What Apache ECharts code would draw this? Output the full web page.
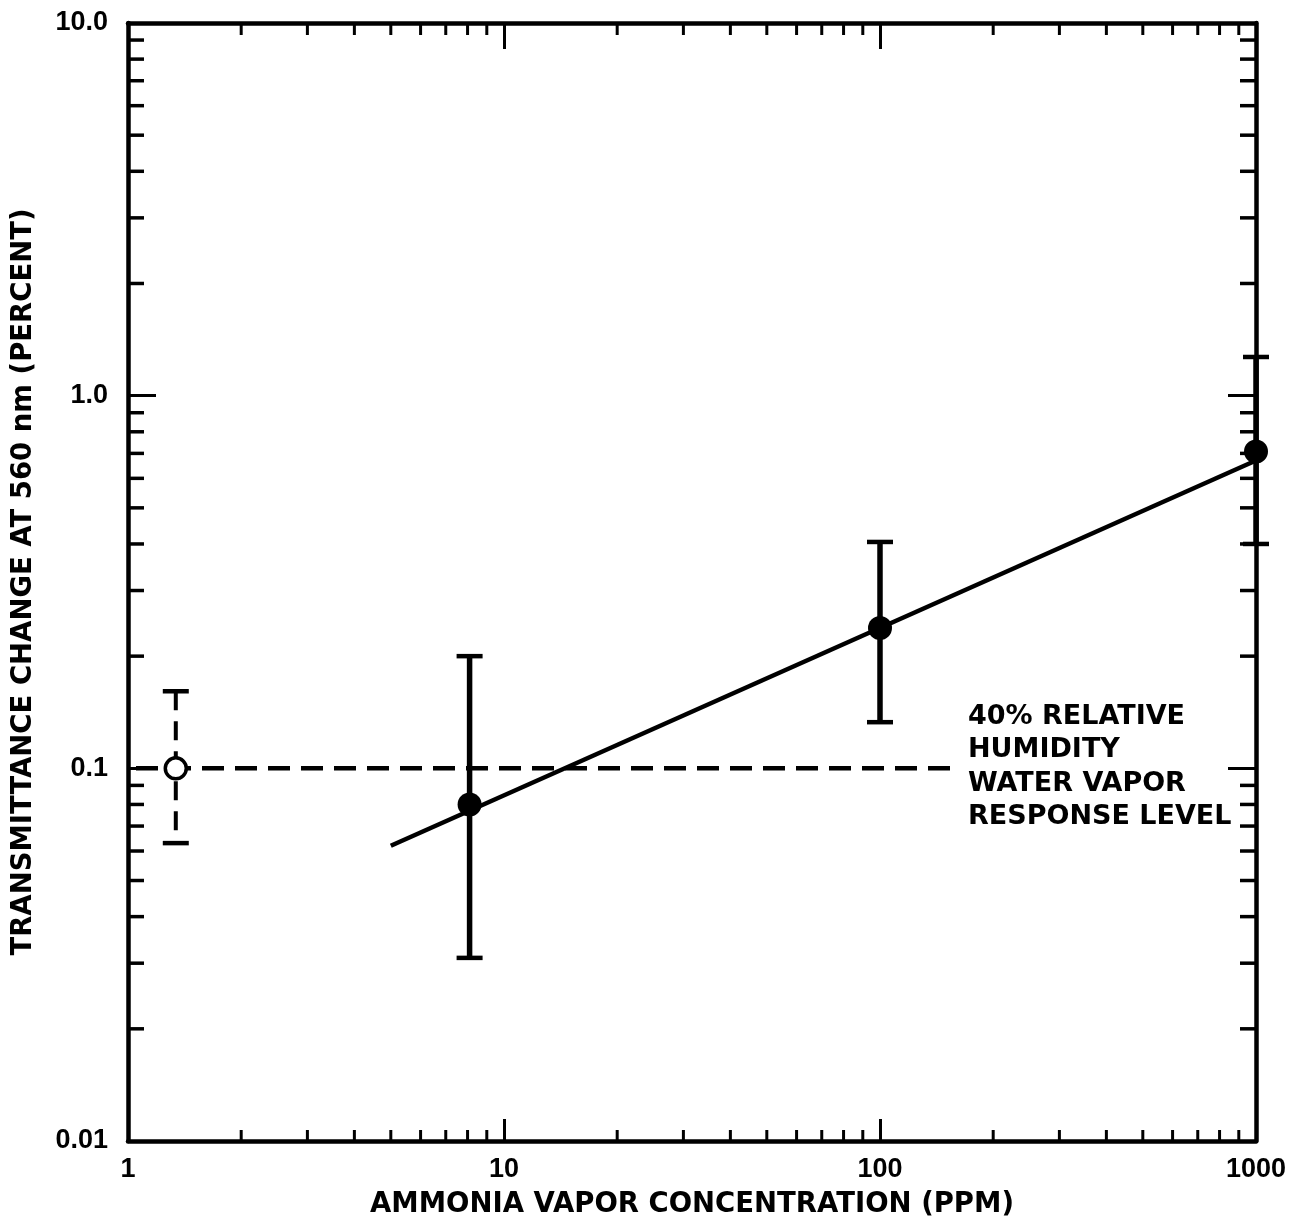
<!DOCTYPE html>
<html><head><meta charset="utf-8">
<script src="https://cdn.jsdelivr.net/npm/echarts@6/dist/echarts.min.js"></script>
<style>html,body{margin:0;padding:0;background:#fff}#c{width:1305px;height:1230px}</style>
</head><body><div id="c"></div>
<script>
// ---- data ----
const xTickValues = [1, 10, 100, 1000];
const xTickLabels = ['1', '10', '100', '1000'];
const yTickValues = [0.01, 0.1, 1, 10];
const yTickLabels = ['0.01', '0.1', '1.0', '10.0'];
const xMinorTicks = [2,3,4,5,6,7,8,9,20,30,40,50,60,70,80,90,200,300,400,500,600,700,800,900];
const yMinorTicks = [0.02,0.03,0.04,0.05,0.06,0.07,0.08,0.09,0.2,0.3,0.4,0.5,0.6,0.7,0.8,0.9,2,3,4,5,6,7,8,9];
const measuredPoints = [[8.1, 0.080], [100, 0.238], [1000, 0.708]];
const measuredErrors = [[8.1, 0.031, 0.20], [100, 0.133, 0.405], [1000, 0.40, 1.27]];
const waterPoint = [[1.34, 0.1]];
const waterError = [[1.34, 0.063, 0.161]];
const waterLevel = [[1, 0.1], [158, 0.1]];
const fitLine = [[5, 0.062], [1000, 0.67]];
const annotationLines = ['40% RELATIVE', 'HUMIDITY', 'WATER VAPOR', 'RESPONSE LEVEL'];
const xName = 'AMMONIA VAPOR CONCENTRATION (PPM)';
const yName = 'TRANSMITTANCE CHANGE AT 560 nm (PERCENT)';

// ---- chart ----
const chart = echarts.init(document.getElementById('c'), null, {renderer: 'canvas'});
const labelFont = {color: '#000', fontFamily: '"Liberation Sans", Arial, sans-serif', fontWeight: 'bold', fontSize: 27};
const titleFont = {color: '#000', fontFamily: '"DejaVu Sans", sans-serif', fontWeight: 'bold', fontSize: 27.5};
const axLine = {show: true, onZero: false, lineStyle: {color: '#000', width: 4.5}};

function lookup(vals, labels, v) {
  const e = Math.round(Math.log10(v));
  for (let i = 0; i < vals.length; i++) if (Math.round(Math.log10(vals[i])) === e) return labels[i];
  return '';
}

function errRender(dashed) {
  return function (params, api) {
    const x = api.value(0), lo = api.value(1), hi = api.value(2);
    const pLo = api.coord([x, lo]), pHi = api.coord([x, hi]);
    const hw = 13;
    return {type: 'group', children: [
      {type: 'line', shape: {x1: pHi[0], y1: pHi[1], x2: pLo[0], y2: pLo[1]},
       style: {stroke: '#000', lineWidth: dashed ? 4 : 5.5, lineDash: dashed ? [19, 11] : null}},
      {type: 'line', shape: {x1: pHi[0] - hw, y1: pHi[1], x2: pHi[0] + hw, y2: pHi[1]}, style: {stroke: '#000', lineWidth: 4.5}},
      {type: 'line', shape: {x1: pLo[0] - hw, y1: pLo[1], x2: pLo[0] + hw, y2: pLo[1]}, style: {stroke: '#000', lineWidth: 4.5}}
    ]};
  };
}

const option = {
  backgroundColor: '#fff',
  animation: false,
  grid: {left: 128, right: 49, top: 23, bottom: 89},
  xAxis: [
    {type: 'log', logBase: 10, min: 1, max: 1000, position: 'bottom',
     name: xName, nameLocation: 'middle', nameGap: 50, nameTextStyle: titleFont,
     axisLine: axLine, splitLine: {show: false},
     axisTick: {show: true, inside: true, length: 22, lineStyle: {color: '#000', width: 3}},
     axisLabel: Object.assign({margin: 15, formatter: v => lookup(xTickValues, xTickLabels, v)}, labelFont)},
    {type: 'log', logBase: 10, min: 1, max: 1000, position: 'top',
     axisLine: axLine, splitLine: {show: false},
     axisTick: {show: true, inside: true, length: 26, lineStyle: {color: '#000', width: 3}},
     axisLabel: {show: false}}
  ],
  yAxis: [
    {type: 'log', logBase: 10, min: 0.01, max: 10, position: 'left',
     name: yName, nameLocation: 'middle', nameGap: 90, nameRotate: 90, nameTextStyle: titleFont,
     axisLine: axLine, splitLine: {show: false},
     axisTick: {show: true, inside: true, length: 28, lineStyle: {color: '#000', width: 3}},
     axisLabel: Object.assign({margin: 20, formatter: v => lookup(yTickValues, yTickLabels, v)}, labelFont)},
    {type: 'log', logBase: 10, min: 0.01, max: 10, position: 'right',
     axisLine: axLine, splitLine: {show: false},
     axisTick: {show: true, inside: true, length: 28, lineStyle: {color: '#000', width: 3}},
     axisLabel: {show: false}}
  ],
  series: [
    {type: 'custom', name: 'xminor', silent: true, clip: false, z: 1,
     data: xMinorTicks.map(v => [v, 1]),
     renderItem: function (params, api) {
       const v = api.value(0);
       const b = api.coord([v, 0.01]), t = api.coord([v, 10]);
       return {type: 'group', children: [
         {type: 'line', shape: {x1: b[0], y1: b[1], x2: b[0], y2: b[1] - 11}, style: {stroke: '#000', lineWidth: 3}},
         {type: 'line', shape: {x1: t[0], y1: t[1], x2: t[0], y2: t[1] + 12}, style: {stroke: '#000', lineWidth: 3}}
       ]};
     }},
    {type: 'custom', name: 'yminor', silent: true, clip: false, z: 1,
     data: yMinorTicks.map(v => [1, v]),
     renderItem: function (params, api) {
       const v = api.value(1);
       const l = api.coord([1, v]), r = api.coord([1000, v]);
       return {type: 'group', children: [
         {type: 'line', shape: {x1: l[0], y1: l[1], x2: l[0] + 16, y2: l[1]}, style: {stroke: '#000', lineWidth: 3.5}},
         {type: 'line', shape: {x1: r[0], y1: r[1], x2: r[0] - 16, y2: r[1]}, style: {stroke: '#000', lineWidth: 3.5}}
       ]};
     }},
    {type: 'line', name: 'water', data: waterLevel, showSymbol: false, symbol: 'none', silent: true, z: 2,
     lineStyle: {color: '#000', width: 4.5, type: [22, 11], dashOffset: 25}},
    {type: 'line', name: 'fit', data: fitLine, showSymbol: false, symbol: 'none', silent: true, z: 2,
     lineStyle: {color: '#000', width: 4.5}},
    {type: 'custom', name: 'werr', silent: true, clip: false, z: 3, data: waterError, renderItem: errRender(true)},
    {type: 'custom', name: 'merr', silent: true, clip: false, z: 3, data: measuredErrors, renderItem: errRender(false)},
    {type: 'scatter', name: 'wpt', data: waterPoint, symbol: 'circle', symbolSize: 21, clip: false, z: 4,
     itemStyle: {color: '#fff', borderColor: '#000', borderWidth: 3.5, opacity: 1}},
    {type: 'scatter', name: 'mpt', data: measuredPoints, symbol: 'circle', symbolSize: 24, clip: false, z: 4,
     itemStyle: {color: '#000', opacity: 1}}
  ],
  graphic: [
    {type: 'text', left: 968, top: 700, silent: true,
     style: {text: annotationLines.join('\n'), fill: '#000', font: 'bold 27px "DejaVu Sans", sans-serif', lineHeight: 33.5}}
  ]
};
chart.setOption(option);
</script>
</body></html>
